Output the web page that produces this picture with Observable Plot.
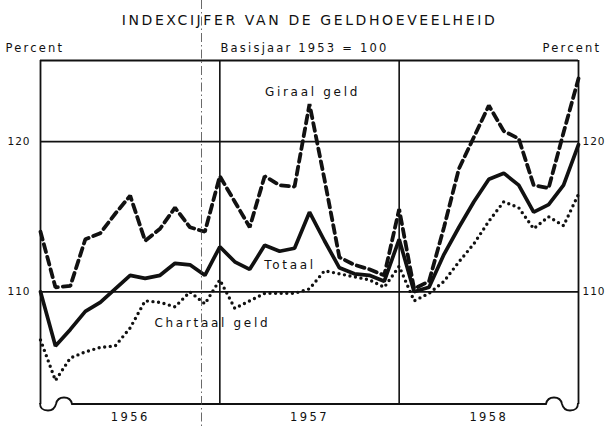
<!DOCTYPE html>
<html>
<head>
<meta charset="utf-8">
<script src="https://cdn.jsdelivr.net/npm/d3@7"></script>
<script src="https://cdn.jsdelivr.net/npm/@observablehq/plot@0.6"></script>
<style>
  html, body { margin: 0; padding: 0; background: #fff; }
  #wrap { position: relative; width: 607px; height: 428px; overflow: hidden; }
  .overlay { position: absolute; left: 0; top: 0; pointer-events: none; }
</style>
</head>
<body>
<div id="wrap"></div>
<script>
// Monthly index figures (end of month), Dec 1955 .. Dec 1958, base year 1953 = 100
const monthIndex = d3.range(37);
const giraal = [114.0, 110.3, 110.4, 113.5, 113.9, 115.2, 116.4, 113.4, 114.2, 115.6, 114.3, 114.0, 117.7,
                116.0, 114.3, 117.7, 117.1, 117.0, 122.5, 117.5, 112.3, 111.8, 111.5, 111.1, 115.5,
                110.2, 110.7, 114.3, 118.2, 120.3, 122.4, 120.7, 120.2, 117.1, 116.9, 120.6, 124.2];
const totaal = [110.0, 106.4, 107.5, 108.7, 109.3, 110.2, 111.1, 110.9, 111.1, 111.9, 111.8, 111.1, 113.0,
                112.0, 111.5, 113.1, 112.7, 112.9, 115.3, 113.4, 111.6, 111.2, 111.1, 110.7, 113.5,
                110.0, 110.3, 112.5, 114.3, 116.0, 117.5, 117.9, 117.1, 115.3, 115.8, 117.1, 119.8];
const chartaal = [106.8, 104.1, 105.6, 106.0, 106.3, 106.4, 107.6, 109.4, 109.3, 109.0, 110.0, 109.2, 110.8,
                  108.9, 109.4, 109.9, 109.9, 109.9, 110.2, 111.4, 111.2, 111.0, 110.8, 110.3, 111.7,
                  109.4, 109.9, 110.7, 112.0, 113.2, 114.7, 116.0, 115.6, 114.2, 115.0, 114.4, 116.5];
const years = ["1956", "1957", "1958"];
const yearMid = [6, 18, 30];
const yearBounds = [12, 24];
const yTicks = [110, 120];
const seriesNames = ["Giraal geld", "Totaal", "Chartaal geld"];
const labelX = [18.2, 16.7, 11.5];
const labelY = [123.3, 111.75, 107.9];
const title = "INDEXCIJFER VAN DE GELDHOEVEELHEID";
const subtitle = "Basisjaar 1953 = 100";
const unit = "Percent";

const rows = monthIndex.map((m, i) => ({m, giraal: giraal[i], totaal: totaal[i], chartaal: chartaal[i]}));
const labels = seriesNames.map((t, i) => ({t, x: labelX[i], y: labelY[i]}));
const xDomain = [0, 36];
const yDomain = [102.5, 125.4];

const font = "DejaVu Sans";
const ink = "#111";
const chart = Plot.plot({
  width: 607,
  height: 428,
  marginLeft: 40,
  marginRight: 29,
  marginTop: 60,
  marginBottom: 24,
  x: {domain: xDomain, axis: null},
  y: {domain: yDomain, axis: null},
  style: {fontFamily: font, background: "#fff", color: ink},
  marks: [
    Plot.ruleY(yTicks, {stroke: ink, strokeWidth: 1.6}),
    Plot.ruleX(yearBounds, {stroke: ink, strokeWidth: 1.6}),
    Plot.ruleY([yDomain[1]], {stroke: ink, strokeWidth: 1.8}),
    Plot.ruleX(xDomain, {stroke: ink, strokeWidth: 1.8}),
    Plot.line(rows, {x: "m", y: "chartaal", stroke: ink, strokeWidth: 3.4,
      strokeDasharray: "0,5.6", strokeLinecap: "round", strokeLinejoin: "round"}),
    Plot.line(rows, {x: "m", y: "totaal", stroke: ink, strokeWidth: 3.7, strokeLinejoin: "miter"}),
    Plot.line(rows, {x: "m", y: "giraal", stroke: ink, strokeWidth: 3.8,
      strokeDasharray: "8,5", strokeLinejoin: "miter"}),
    Plot.text(labels, {x: "x", y: "y", text: "t", fontSize: 12, fill: ink}),
    Plot.axisY(yTicks, {anchor: "left", tickSize: 0, tickPadding: 10, fontSize: 10.5, label: null}),
    Plot.axisY(yTicks, {anchor: "right", tickSize: 0, tickPadding: 4, fontSize: 10.5, label: null}),
    Plot.text(years, {x: (d, i) => yearMid[i], text: d => d, frameAnchor: "bottom", dy: 16,
      fontSize: 11.5, fill: ink}),
    Plot.text([title], {frameAnchor: "top", dy: -45, fontSize: 14, fill: ink}),
    Plot.text([subtitle], {frameAnchor: "top", dx: -5, dy: -17, fontSize: 11.5, fill: ink}),
    Plot.text([unit], {frameAnchor: "top-left", dx: -35, dy: -17, textAnchor: "start",
      fontSize: 11.5, fill: ink}),
    Plot.text([unit], {frameAnchor: "top-right", dx: -36, dy: -17, textAnchor: "start",
      fontSize: 11.5, fill: ink})
  ]
});
// letter spacing (the reference uses a widely spaced geometric face)
const spacingFor = s => {
  if (s === title) return 2.6;
  if (s === subtitle) return 2.2;
  if (s === unit) return 2.2;
  if (seriesNames.includes(s)) return 2.7;
  if (years.includes(s)) return 2.4;
  return 1;
};
chart.querySelectorAll("text").forEach(t => {
  t.style.letterSpacing = spacingFor(t.textContent.trim()) + "px";
});
const wrap = document.getElementById("wrap");
wrap.appendChild(chart);

// decorative scroll corners on the bottom edge and the scan fold line
const ns = "http://www.w3.org/2000/svg";
const [L, R] = chart.scale("x").range;
const [B, T] = chart.scale("y").range;
const ov = document.createElementNS(ns, "svg");
ov.setAttribute("class", "overlay");
ov.setAttribute("width", 607);
ov.setAttribute("height", 428);
const p = document.createElementNS(ns, "path");
p.setAttribute("d",
  `M ${L},${B - 1} C ${L},${B + 5} ${L + 3},${B + 6.5} ${L + 8},${B + 6.5}` +
  ` C ${L + 13},${B + 6.5} ${L + 15},${B + 4} ${L + 16},${B}` +
  ` C ${L + 17},${B - 5} ${L + 20},${B - 6.5} ${L + 24},${B - 6.5}` +
  ` C ${L + 28},${B - 6.5} ${L + 31},${B - 5} ${L + 32},${B}` +
  ` L ${R - 32},${B}` +
  ` C ${R - 31},${B - 5} ${R - 28},${B - 6.5} ${R - 24},${B - 6.5}` +
  ` C ${R - 20},${B - 6.5} ${R - 17},${B - 5} ${R - 16},${B}` +
  ` C ${R - 15},${B + 4} ${R - 13},${B + 6.5} ${R - 8},${B + 6.5}` +
  ` C ${R - 3},${B + 6.5} ${R},${B + 5} ${R},${B - 1}`);
p.setAttribute("fill", "none");
p.setAttribute("stroke", ink);
p.setAttribute("stroke-width", 1.8);
ov.appendChild(p);
const ln = document.createElementNS(ns, "line");
ln.setAttribute("x1", 201.5); ln.setAttribute("x2", 201.5);
ln.setAttribute("y1", 0); ln.setAttribute("y2", 428);
ln.setAttribute("stroke", "#444");
ln.setAttribute("stroke-width", 0.8);
ln.setAttribute("stroke-dasharray", "9,3,1.5,3");
ov.appendChild(ln);
wrap.appendChild(ov);
</script>
</body>
</html>
